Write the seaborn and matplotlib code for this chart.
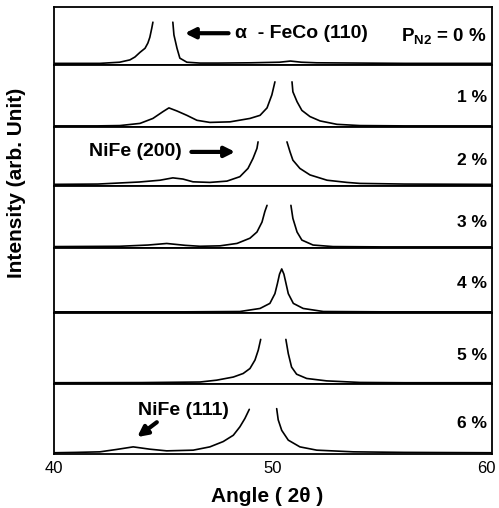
import numpy as np
import pandas as pd
import matplotlib
matplotlib.use("Agg")
import matplotlib.pyplot as plt
import matplotlib.transforms as mtransforms
import seaborn as sns

# ---- data (intensity in arbitrary units, each pattern normalised to its own strip; None = clipped peak) ----
LABELS = ["0 %", "1 %", "2 %", "3 %", "4 %", "5 %", "6 %"]

ANGLE_0 = [40, 41, 42.1, 43.0, 43.47, 43.7, 43.93, 44.16, 44.29, 44.38, 44.47, 44.52, None,
           45.43, 45.48, 45.62, 45.75, 46.07, 46.67, 47.5, 49, 50.3, 50.8, 51.3, 52, 54, 56, 58, 60]
INT_0 = [0.03, 0.03, 0.03, 0.05, 0.09, 0.14, 0.22, 0.29, 0.38, 0.48, 0.64, 0.74, None,
         0.74, 0.52, 0.29, 0.12, 0.05, 0.035, 0.035, 0.04, 0.05, 0.07, 0.05, 0.04, 0.035, 0.03, 0.03, 0.03]

ANGLE_1 = [40, 42, 43.01, 43.93, 44.52, 44.98, 45.25, 45.62, 46.07, 46.53, 47.12, 48.04, 48.95,
           49.41, 49.73, 49.95, 50.09, None,
           50.87, 50.91, 51.1, 51.32, 51.69, 52.15, 52.92, 53.97, 56, 60]
INT_1 = [0.02, 0.02, 0.025, 0.06, 0.14, 0.25, 0.31, 0.26, 0.19, 0.11, 0.076, 0.085, 0.14,
         0.19, 0.31, 0.52, 0.73, None,
         0.73, 0.57, 0.41, 0.27, 0.17, 0.10, 0.045, 0.025, 0.02, 0.02]

ANGLE_2 = [40, 42, 43.9, 44.84, 45.43, 45.89, 46.35, 47.12, 47.9, 48.49, 48.86, 49.09, 49.27, 49.32, None,
           50.64, 50.78, 50.91, 51.23, 51.69, 52.47, 53.38, 53.97, 56, 60]
INT_2 = [0.03, 0.035, 0.07, 0.10, 0.14, 0.12, 0.073, 0.063, 0.085, 0.16, 0.30, 0.47, 0.64, 0.75, None,
         0.75, 0.58, 0.44, 0.30, 0.19, 0.10, 0.063, 0.046, 0.035, 0.03]

ANGLE_3 = [40, 43, 44.3, 45.15, 46, 46.67, 47.58, 48.36, 48.95, 49.27, 49.5, 49.63, 49.73, None,
           50.82, 50.91, 51.1, 51.32, 51.83, 52.74, 55, 60]
INT_3 = [0.025, 0.03, 0.05, 0.075, 0.045, 0.03, 0.037, 0.076, 0.16, 0.26, 0.42, 0.59, 0.69, None,
         0.69, 0.48, 0.26, 0.13, 0.05, 0.025, 0.02, 0.02]

ANGLE_4 = [40, 46, 48.49, 49.41, 49.86, 50.09, 50.2, 50.3, 50.4, 50.5, 50.6, 50.7, 50.93,
           51.38, 52.3, 55, 60]
INT_4 = [0.02, 0.02, 0.025, 0.072, 0.15, 0.30, 0.45, 0.60, 0.68, 0.60, 0.45, 0.30, 0.15,
         0.072, 0.025, 0.02, 0.02]

ANGLE_5 = [40, 44, 46.67, 47.43, 48.19, 48.64, 48.95, 49.18, 49.33, 49.44, None,
           50.59, 50.7, 50.85, 51.08, 51.54, 52.45, 53.97, 56, 60]
INT_5 = [0.02, 0.022, 0.03, 0.056, 0.10, 0.15, 0.22, 0.34, 0.48, 0.63, None,
         0.63, 0.43, 0.24, 0.14, 0.08, 0.046, 0.024, 0.02, 0.02]

ANGLE_6 = [40, 41, 42.1, 42.86, 43.62, 44.38, 45.15, 46.36, 47.12, 47.73, 48.19, 48.49, 48.72, 48.92, None,
           50.17, 50.24, 50.4, 50.7, 51.23, 52.0, 53.67, 56, 60]
INT_6 = [0.02, 0.025, 0.033, 0.067, 0.104, 0.071, 0.047, 0.057, 0.104, 0.18, 0.27, 0.39, 0.51, 0.64, None,
         0.65, 0.49, 0.34, 0.20, 0.104, 0.057, 0.033, 0.025, 0.02]

ANGLES = [ANGLE_0, ANGLE_1, ANGLE_2, ANGLE_3, ANGLE_4, ANGLE_5, ANGLE_6]
INTS = [INT_0, INT_1, INT_2, INT_3, INT_4, INT_5, INT_6]

X_TICKS = [40, 50, 60]
X_MINOR = [45, 55]

# ---- build long-form table ----
rows = []
for i, (aa, ii) in enumerate(zip(ANGLES, INTS)):
    seg = 0
    for a, v in zip(aa, ii):
        if a is None:
            seg += 1
            continue
        rows.append(dict(sample=i, segment=seg, angle=a, intensity=v))
df = pd.DataFrame(rows)

sns.set_style("white")
plt.rcParams["font.family"] = ["Liberation Sans", "DejaVu Sans"]
plt.rcParams["mathtext.fontset"] = "custom"
plt.rcParams["mathtext.rm"] = "Liberation Sans"
plt.rcParams["mathtext.bf"] = "Liberation Sans:bold"
plt.rcParams["text.color"] = "black"
plt.rcParams["axes.labelcolor"] = "black"
plt.rcParams["xtick.color"] = "black"

fig = plt.figure(figsize=(4.99, 5.08), dpi=100)
heights = [58, 62, 59, 62, 65, 71, 70]
gs = fig.add_gridspec(7, 1, height_ratios=heights, left=0.108, right=0.986,
                      top=0.986, bottom=0.106, hspace=0)

label_y = [0.48, 0.47, 0.44, 0.42, 0.46, 0.41, 0.44]
axes = []
for i in range(7):
    ax = fig.add_subplot(gs[i, 0])
    axes.append(ax)
    sub = df[df["sample"] == i]
    sns.lineplot(data=sub, x="angle", y="intensity", units="segment", estimator=None,
                 sort=False, color="black", lw=1.2, ax=ax, legend=False)
    ax.set_xlim(40, 60)
    ax.set_ylim(0, 1)
    ax.set_yticks([])
    ax.set_xlabel("")
    ax.set_ylabel("")
    for sp in ax.spines.values():
        sp.set_color("black")
        sp.set_linewidth(1.3)
    if i < 6:
        ax.set_xticks([])
    else:
        ax.set_xticks(X_TICKS)
        ax.set_xticks(X_MINOR, minor=True)
        ax.tick_params(axis="x", which="major", direction="in", length=7, width=1.5,
                       labelsize=12, pad=5, colors="black")
        ax.tick_params(axis="x", which="minor", direction="in", length=4, width=1.2)
        last = ax.get_xticklabels()[-1]
        last.set_transform(last.get_transform() +
                           mtransforms.ScaledTranslation(-0.06, 0, fig.dpi_scale_trans))
    if i == 0:
        ax.text(0.988, label_y[i], r"P$_{\mathbf{N2}}$ = 0 %", transform=ax.transAxes,
                ha="right", va="center", fontsize=13.5, fontweight="bold")
    else:
        ax.text(0.988, label_y[i], LABELS[i], transform=ax.transAxes,
                ha="right", va="center", fontsize=12.5, fontweight="bold")

# annotations
axes[0].annotate("", xy=(45.85, 0.55), xytext=(48.1, 0.55),
                 arrowprops=dict(arrowstyle="-|>", lw=3, color="black", mutation_scale=15))
axes[0].text(48.25, 0.55, "α  - FeCo (110)", ha="left", va="center",
             fontsize=14, fontweight="bold")

axes[2].text(41.6, 0.58, "NiFe (200)", ha="left", va="center",
             fontsize=14, fontweight="bold")
axes[2].annotate("", xy=(48.4, 0.58), xytext=(46.15, 0.58),
                 arrowprops=dict(arrowstyle="-|>", lw=3, color="black", mutation_scale=15))

axes[6].text(45.9, 0.63, "NiFe (111)", ha="center", va="center",
             fontsize=14, fontweight="bold")
axes[6].annotate("", xy=(43.7, 0.22), xytext=(44.8, 0.48),
                 arrowprops=dict(arrowstyle="-|>", lw=3, color="black", mutation_scale=15))

fig.text(267 / 499, 1 - 497 / 508, "Angle ( 2θ )", ha="center", va="center",
         fontsize=15, fontweight="bold")
fig.text(0.034, 0.64, "Intensity (arb. Unit)", rotation=90, ha="center", va="center",
         fontsize=15, fontweight="bold")

fig.savefig("out.png", dpi=100)
